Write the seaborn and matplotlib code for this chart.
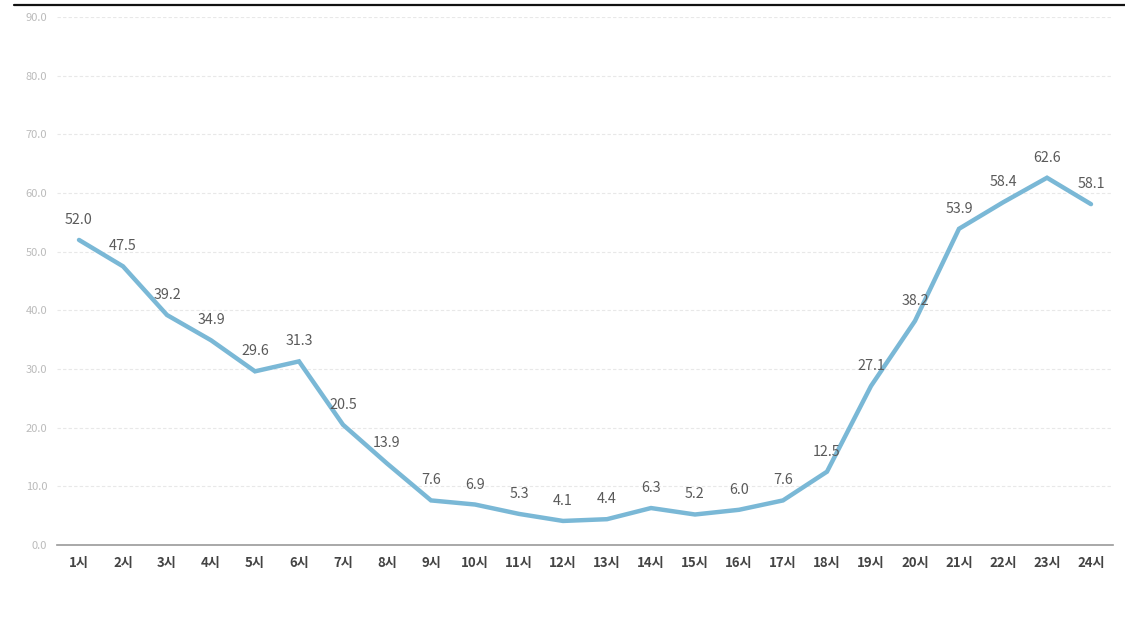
import matplotlib
matplotlib.use("Agg")
import matplotlib.pyplot as plt
import seaborn as sns
import pandas as pd
from matplotlib.lines import Line2D

hours = [f"{i}시" for i in range(1, 25)]
values = [52.0, 47.5, 39.2, 34.9, 29.6, 31.3, 20.5, 13.9, 7.6, 6.9, 5.3, 4.1,
          4.4, 6.3, 5.2, 6.0, 7.6, 12.5, 27.1, 38.2, 53.9, 58.4, 62.6, 58.1]
yticks = [0, 10, 20, 30, 40, 50, 60, 70, 80, 90]

sns.set_theme(style="white")
plt.rcParams['font.family'] = ['Noto Sans CJK KR', 'DejaVu Sans']

df = pd.DataFrame({"hour": hours, "value": values})
fig = plt.figure(figsize=(11.25, 6.29), dpi=100)
ax = fig.add_axes([57/1125, 1-545/629, (1113-57)/1125, (545-17)/629])

x = list(range(len(hours)))
sns.lineplot(x=x, y=values, ax=ax, color="#7ab8d6", linewidth=3.2, solid_joinstyle="miter")

for xi, v in zip(x, values):
    ax.annotate(f"{v:.1f}", (xi, v), xytext=(0, 20), textcoords="offset pixels",
                ha="center", va="center", fontsize=10.3, color="#5a5a5a")

ax.set_xlim(-0.5, len(hours) - 0.5)
ax.set_ylim(0, 90)
ax.set_xticks(x)
ax.set_xticklabels(hours, fontsize=9.5, color="#444444", fontweight="semibold")
ax.set_yticks(yticks)
ax.set_yticklabels([f"{t:.1f}" for t in yticks], fontsize=8, color="#bbbbbb")
ax.tick_params(axis="y", length=0, pad=7)
ax.tick_params(axis="x", length=0, pad=8)
for t in yticks[1:]:
    ax.axhline(t, color="#e8e8e8", linewidth=0.8, linestyle=(0, (3, 2)), zorder=0)
for s in ["top", "right", "left"]:
    ax.spines[s].set_visible(False)
ax.spines["bottom"].set_color("#999999")
ax.spines["bottom"].set_linewidth(1.2)
ax.set_xlabel("")
ax.set_ylabel("")

fig.add_artist(Line2D([0.012, 1.0], [1-5/629, 1-5/629], color="#111111", linewidth=1.6,
                      transform=fig.transFigure))

fig.savefig("out.png", dpi=100)
